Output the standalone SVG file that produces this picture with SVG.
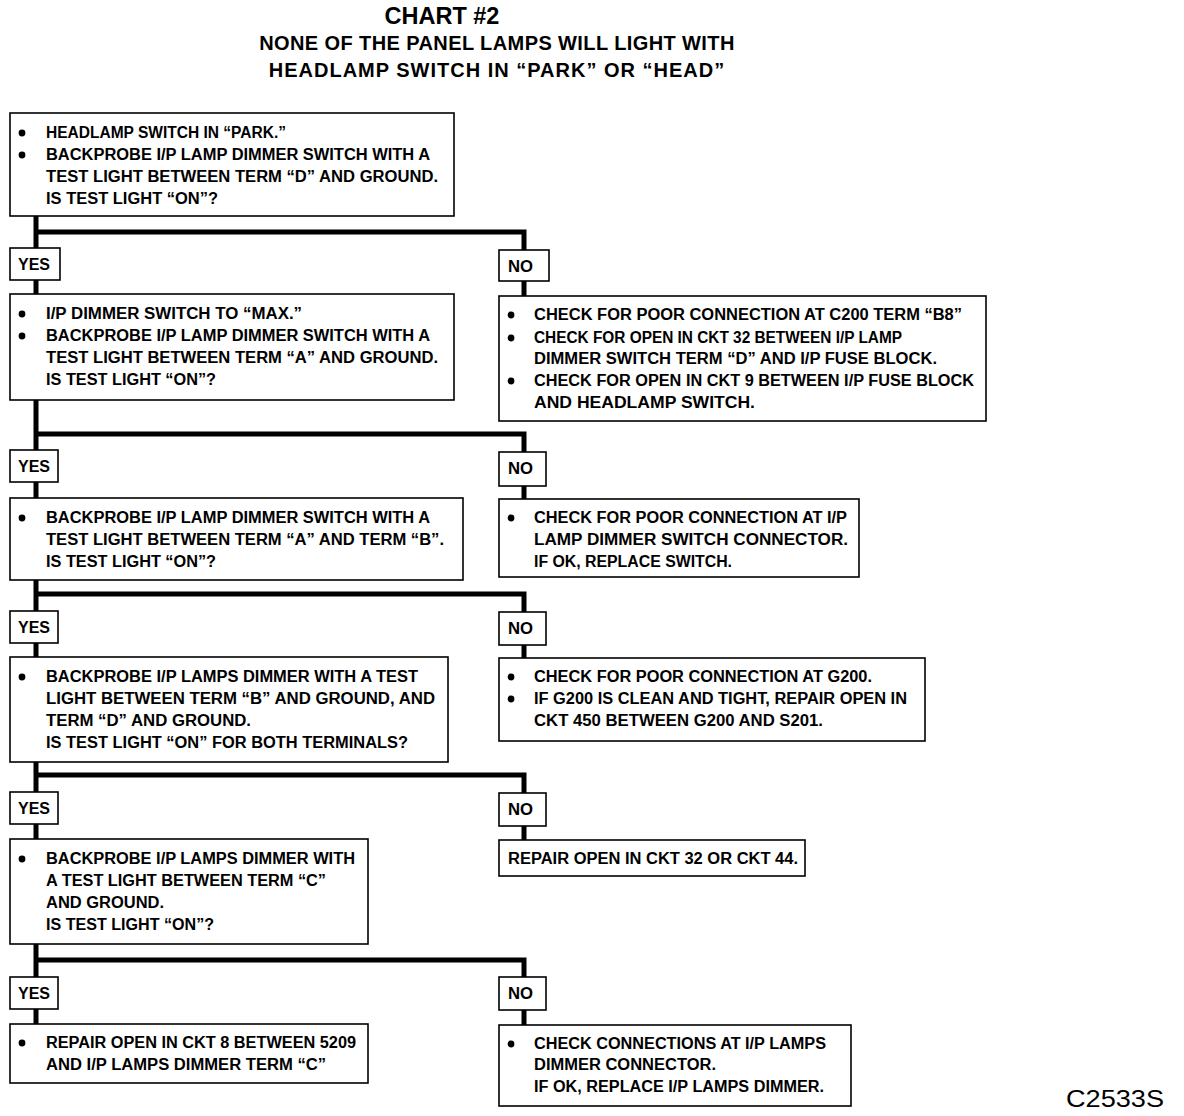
<svg xmlns="http://www.w3.org/2000/svg" width="1184" height="1116" viewBox="0 0 1184 1116">
<style>
.bx{fill:#fff;stroke:#000;stroke-width:1.6}
.t{font-family:"Liberation Sans",Arial,sans-serif;font-weight:bold;font-size:16px;fill:#000}
.ti{font-family:"Liberation Sans",Arial,sans-serif;font-weight:bold;fill:#000;text-anchor:middle}
.c{fill:none;stroke:#000;stroke-width:5;stroke-linejoin:miter}
.s{fill:none;stroke:#000;stroke-width:5}
</style>
<defs><circle id="b" r="3.4" fill="#000"/></defs>
<rect width="1184" height="1116" fill="#fff"/>
<g id="title">
<text class="ti" x="442" y="24" font-size="23.5">CHART #2</text>
<text class="ti" x="497" y="50" font-size="20" letter-spacing="0.4">NONE OF THE PANEL LAMPS WILL LIGHT WITH</text>
<text class="ti" x="497" y="77" font-size="20" letter-spacing="1">HEADLAMP SWITCH IN “PARK” OR “HEAD”</text>
</g>
<g id="connectors">
<path class="c" d="M36,216V248M36,232H524V250"/>
<path class="s" d="M36,280V294M524,281V296"/>
<path class="c" d="M36,400V450M36,434H524V452"/>
<path class="s" d="M36,482V498M524,486V499"/>
<path class="c" d="M36,580V611M36,594H524V612"/>
<path class="s" d="M36,643V657M524,645V658"/>
<path class="c" d="M36,762V792M36,775H524V793"/>
<path class="s" d="M36,824V839M524,826V840"/>
<path class="c" d="M36,944V977M36,960H524V977"/>
<path class="s" d="M36,1009V1024M524,1010V1025"/>
</g>
<g id="n1">
<rect class="bx" x="10" y="113" width="444" height="103"/>
<use href="#b" x="22" y="133"/><use href="#b" x="22" y="155"/>
<text class="t" x="46" y="138" textLength="240" lengthAdjust="spacingAndGlyphs">HEADLAMP SWITCH IN “PARK.”</text>
<text class="t" x="46" y="160" textLength="384" lengthAdjust="spacingAndGlyphs">BACKPROBE I/P LAMP DIMMER SWITCH WITH A</text>
<text class="t" x="46" y="182" textLength="392" lengthAdjust="spacingAndGlyphs">TEST LIGHT BETWEEN TERM “D” AND GROUND.</text>
<text class="t" x="46" y="204" textLength="172" lengthAdjust="spacingAndGlyphs">IS TEST LIGHT “ON”?</text>
</g>
<g id="yes1"><rect class="bx" x="10" y="248" width="50" height="32"/><text class="t" x="18" y="270" textLength="32" lengthAdjust="spacingAndGlyphs">YES</text></g>
<g id="no1"><rect class="bx" x="499" y="250" width="50" height="31"/><text class="t" x="508" y="272" textLength="25" lengthAdjust="spacingAndGlyphs">NO</text></g>
<g id="n2">
<rect class="bx" x="10" y="294" width="444" height="106"/>
<use href="#b" x="22" y="314"/><use href="#b" x="22" y="336"/>
<text class="t" x="46" y="319" textLength="256" lengthAdjust="spacingAndGlyphs">I/P DIMMER SWITCH TO “MAX.”</text>
<text class="t" x="46" y="341" textLength="384" lengthAdjust="spacingAndGlyphs">BACKPROBE I/P LAMP DIMMER SWITCH WITH A</text>
<text class="t" x="46" y="363" textLength="392" lengthAdjust="spacingAndGlyphs">TEST LIGHT BETWEEN TERM “A” AND GROUND.</text>
<text class="t" x="46" y="385" textLength="170" lengthAdjust="spacingAndGlyphs">IS TEST LIGHT “ON”?</text>
</g>
<g id="r2">
<rect class="bx" x="499" y="296" width="487" height="125"/>
<use href="#b" x="511" y="315"/><use href="#b" x="511" y="338"/><use href="#b" x="511" y="381"/>
<text class="t" x="534" y="320" textLength="428" lengthAdjust="spacingAndGlyphs">CHECK FOR POOR CONNECTION AT C200 TERM “B8”</text>
<text class="t" x="534" y="343" textLength="368" lengthAdjust="spacingAndGlyphs">CHECK FOR OPEN IN CKT 32 BETWEEN I/P LAMP</text>
<text class="t" x="534" y="364" textLength="403" lengthAdjust="spacingAndGlyphs">DIMMER SWITCH TERM “D” AND I/P FUSE BLOCK.</text>
<text class="t" x="534" y="386" textLength="440" lengthAdjust="spacingAndGlyphs">CHECK FOR OPEN IN CKT 9 BETWEEN I/P FUSE BLOCK</text>
<text class="t" x="534" y="408" textLength="221" lengthAdjust="spacingAndGlyphs">AND HEADLAMP SWITCH.</text>
</g>
<g id="yes2"><rect class="bx" x="10" y="450" width="48" height="32"/><text class="t" x="18" y="472" textLength="32" lengthAdjust="spacingAndGlyphs">YES</text></g>
<g id="no2"><rect class="bx" x="499" y="452" width="47" height="34"/><text class="t" x="508" y="474" textLength="25" lengthAdjust="spacingAndGlyphs">NO</text></g>
<g id="n3">
<rect class="bx" x="10" y="498" width="453" height="82"/>
<use href="#b" x="22" y="518"/>
<text class="t" x="46" y="523" textLength="384" lengthAdjust="spacingAndGlyphs">BACKPROBE I/P LAMP DIMMER SWITCH WITH A</text>
<text class="t" x="46" y="545" textLength="398" lengthAdjust="spacingAndGlyphs">TEST LIGHT BETWEEN TERM “A” AND TERM “B”.</text>
<text class="t" x="46" y="567" textLength="170" lengthAdjust="spacingAndGlyphs">IS TEST LIGHT “ON”?</text>
</g>
<g id="r3">
<rect class="bx" x="499" y="499" width="360" height="78"/>
<use href="#b" x="511" y="518"/>
<text class="t" x="534" y="523" textLength="313" lengthAdjust="spacingAndGlyphs">CHECK FOR POOR CONNECTION AT I/P</text>
<text class="t" x="534" y="545" textLength="314" lengthAdjust="spacingAndGlyphs">LAMP DIMMER SWITCH CONNECTOR.</text>
<text class="t" x="534" y="567" textLength="198" lengthAdjust="spacingAndGlyphs">IF OK, REPLACE SWITCH.</text>
</g>
<g id="yes3"><rect class="bx" x="10" y="611" width="48" height="32"/><text class="t" x="18" y="633" textLength="32" lengthAdjust="spacingAndGlyphs">YES</text></g>
<g id="no3"><rect class="bx" x="499" y="612" width="47" height="33"/><text class="t" x="508" y="634" textLength="25" lengthAdjust="spacingAndGlyphs">NO</text></g>
<g id="n4">
<rect class="bx" x="10" y="657" width="438" height="105"/>
<use href="#b" x="22" y="677"/>
<text class="t" x="46" y="682" textLength="372" lengthAdjust="spacingAndGlyphs">BACKPROBE I/P LAMPS DIMMER WITH A TEST</text>
<text class="t" x="46" y="704" textLength="389" lengthAdjust="spacingAndGlyphs">LIGHT BETWEEN TERM “B” AND GROUND, AND</text>
<text class="t" x="46" y="726" textLength="205" lengthAdjust="spacingAndGlyphs">TERM “D” AND GROUND.</text>
<text class="t" x="46" y="748" textLength="362" lengthAdjust="spacingAndGlyphs">IS TEST LIGHT “ON” FOR BOTH TERMINALS?</text>
</g>
<g id="r4">
<rect class="bx" x="499" y="658" width="426" height="83"/>
<use href="#b" x="511" y="677"/><use href="#b" x="511" y="699"/>
<text class="t" x="534" y="682" textLength="338" lengthAdjust="spacingAndGlyphs">CHECK FOR POOR CONNECTION AT G200.</text>
<text class="t" x="534" y="704" textLength="373" lengthAdjust="spacingAndGlyphs">IF G200 IS CLEAN AND TIGHT, REPAIR OPEN IN</text>
<text class="t" x="534" y="726" textLength="289" lengthAdjust="spacingAndGlyphs">CKT 450 BETWEEN G200 AND S201.</text>
</g>
<g id="yes4"><rect class="bx" x="10" y="792" width="48" height="32"/><text class="t" x="18" y="814" textLength="32" lengthAdjust="spacingAndGlyphs">YES</text></g>
<g id="no4"><rect class="bx" x="499" y="793" width="47" height="33"/><text class="t" x="508" y="815" textLength="25" lengthAdjust="spacingAndGlyphs">NO</text></g>
<g id="n5">
<rect class="bx" x="10" y="839" width="358" height="105"/>
<use href="#b" x="22" y="859"/>
<text class="t" x="46" y="864" textLength="309" lengthAdjust="spacingAndGlyphs">BACKPROBE I/P LAMPS DIMMER WITH</text>
<text class="t" x="46" y="886" textLength="280" lengthAdjust="spacingAndGlyphs">A TEST LIGHT BETWEEN TERM “C”</text>
<text class="t" x="46" y="908" textLength="118" lengthAdjust="spacingAndGlyphs">AND GROUND.</text>
<text class="t" x="46" y="930" textLength="168" lengthAdjust="spacingAndGlyphs">IS TEST LIGHT “ON”?</text>
</g>
<g id="r5">
<rect class="bx" x="499" y="840" width="306" height="36"/>
<text class="t" x="508" y="864" textLength="290" lengthAdjust="spacingAndGlyphs">REPAIR OPEN IN CKT 32 OR CKT 44.</text>
</g>
<g id="yes5"><rect class="bx" x="10" y="977" width="48" height="32"/><text class="t" x="18" y="999" textLength="32" lengthAdjust="spacingAndGlyphs">YES</text></g>
<g id="no5"><rect class="bx" x="499" y="977" width="47" height="33"/><text class="t" x="508" y="999" textLength="25" lengthAdjust="spacingAndGlyphs">NO</text></g>
<g id="n6">
<rect class="bx" x="10" y="1024" width="358" height="59"/>
<use href="#b" x="22" y="1043"/>
<text class="t" x="46" y="1048" textLength="310" lengthAdjust="spacingAndGlyphs">REPAIR OPEN IN CKT 8 BETWEEN 5209</text>
<text class="t" x="46" y="1070" textLength="280" lengthAdjust="spacingAndGlyphs">AND I/P LAMPS DIMMER TERM “C”</text>
</g>
<g id="r6">
<rect class="bx" x="499" y="1025" width="352" height="81"/>
<use href="#b" x="511" y="1044"/>
<text class="t" x="534" y="1049" textLength="292" lengthAdjust="spacingAndGlyphs">CHECK CONNECTIONS AT I/P LAMPS</text>
<text class="t" x="534" y="1070" textLength="182" lengthAdjust="spacingAndGlyphs">DIMMER CONNECTOR.</text>
<text class="t" x="534" y="1092" textLength="290" lengthAdjust="spacingAndGlyphs">IF OK, REPLACE I/P LAMPS DIMMER.</text>
</g>
<text x="1066" y="1107" font-family="Liberation Sans,sans-serif" font-size="24" textLength="98" lengthAdjust="spacingAndGlyphs" fill="#000">C2533S</text>
</svg>
